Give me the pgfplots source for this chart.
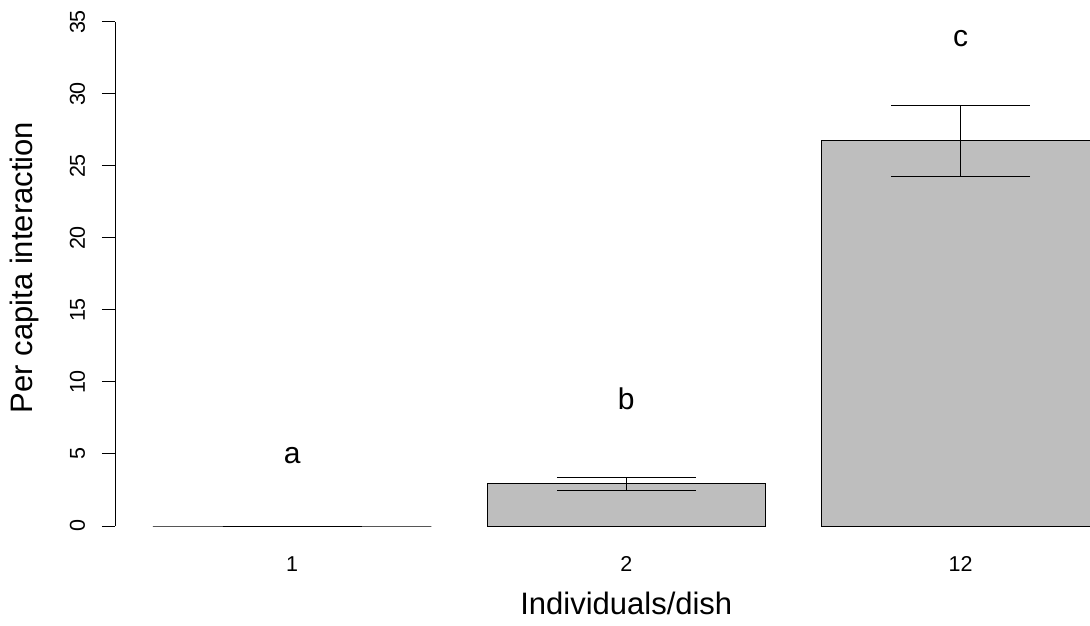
\documentclass[border=0pt]{standalone}
\usepackage{fontspec}
\setmainfont{Liberation Sans}
\usepackage{pgfplots}
\pgfplotsset{compat=1.18}
\definecolor{bargray}{HTML}{BEBEBE}
\begin{document}
\begin{tikzpicture}
\path[use as bounding box] (0,0) rectangle (1090bp,626bp);
\begin{axis}[
  at={(115bp,100bp)}, anchor=south west,
  scale only axis, width=975bp, height=504bp,
  xmin=0.064, xmax=3.565, ymin=0, ymax=35,
  clip=false,
  axis lines*=left,
  x axis line style={draw=none},
  y axis line style={line width=1bp, black},
  xtick={0.7,1.9,3.1}, xticklabels={1,2,12},
  x tick style={draw=none},
  ytick={0,5,...,35},
  y tick style={line width=1bp, black},
  tick align=outside, major tick length=13bp,
  /pgf/number format/assume math mode=true,
  ticklabel style={font=\fontsize{21.5bp}{24bp}\selectfont, inner sep=0pt},
  yticklabel style={rotate=90, anchor=base, yshift=17bp},
  xticklabel style={anchor=base, yshift=-32.5bp},
  xlabel={Individuals/dish}, ylabel={Per capita interaction},
  label style={font=\fontsize{31bp}{34bp}\selectfont},
  xlabel style={at={(axis description cs:0.5244,-0.1746)}, anchor=base},
  ylabel style={at={(axis description cs:-0.0841,0.5129)}, anchor=base},
]
\addplot[ybar, bar width=1, bar shift=0pt, fill=bargray, draw=black, line width=1bp,
  error bars/.cd, y dir=both, y explicit,
  error bar style={line width=1bp, black},
  error mark options={rotate=90, mark size=69.5bp, line width=1bp, black}]
coordinates {(0.7,0) +- (0,0) (1.9,2.93) +- (0,0.46) (3.1,26.74) +- (0,2.49)};
\node[font=\fontsize{30bp}{32bp}\selectfont, anchor=base, inner sep=0pt] at (axis cs:0.7,4.35) {a};
\node[font=\fontsize{30bp}{32bp}\selectfont, anchor=base, inner sep=0pt] at (axis cs:1.9,8.10) {b};
\node[font=\fontsize{30bp}{32bp}\selectfont, anchor=base, inner sep=0pt] at (axis cs:3.1,33.28) {c};
\end{axis}
\end{tikzpicture}
\end{document}
